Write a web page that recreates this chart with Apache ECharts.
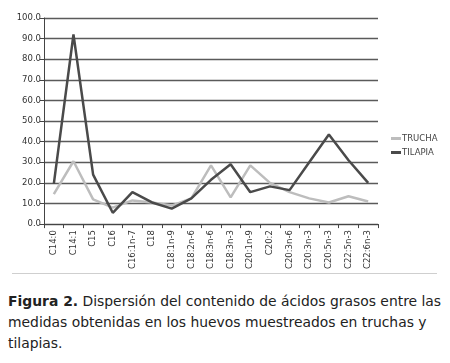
<!DOCTYPE html>
<html>
<head>
<meta charset="utf-8">
<script src="https://cdn.jsdelivr.net/npm/echarts@6/dist/echarts.min.js"></script>
<style>
  body { margin: 0; background: #fff; }
  #wrap { position: relative; width: 450px; height: 363px; }
  #chart { position: absolute; left: 0; top: 0; width: 450px; height: 272px; }
  #sep { position: absolute; left: 12px; top: 273px; width: 425px; border-top: 1px solid #cfcfcf; }
  #caption {
    position: absolute; left: 8px; top: 291px; width: 440px;
    font-family: "DejaVu Sans", sans-serif; font-size: 13.9px; line-height: 21px;
    color: #222; white-space: nowrap;
  }
  #caption b { font-weight: bold; }
</style>
</head>
<body>
<div id="wrap">
  <div id="chart"></div>
  <div id="sep"></div>
  <div id="caption"><b>Figura 2.</b> Dispersión del contenido de ácidos grasos entre las<br>medidas obtenidas en los huevos muestreados en truchas y<br>tilapias.</div>
</div>
<script>
// ácidos grasos (eje x)
const acidos = ['C14:0', 'C14:1', 'C15', 'C16', 'C16:1n-7', 'C18', 'C18:1n-9', 'C18:2n-6',
  'C18:3n-6', 'C18:3n-3', 'C20:1n-9', 'C20:2', 'C20:3n-6', 'C20:3n-3', 'C20:5n-3', 'C22:5n-3', 'C22:6n-3'];
const trucha = [14.5, 30.5, 12, 8, 11.5, 10.5, 9, 12.5, 28.5, 13, 28.5, 20, 15.5, 12.5, 10.5, 13.5, 11];
const tilapia = [19.5, 92, 24, 5.5, 15.5, 10.5, 7.5, 12.5, 21.5, 29, 15.5, 18.3, 16.5, 30, 43.5, 31, 20];

const chart = echarts.init(document.getElementById('chart'));
chart.setOption({
  animation: false,
  grid: { left: 44, right: 72, top: 18, bottom: 47 },
  legend: {
    orient: 'vertical',
    left: 386,
    top: 129,
    itemWidth: 10,
    itemHeight: 3,
    itemGap: 5,
    icon: 'rect',
    textStyle: { fontFamily: 'DejaVu Sans', fontSize: 8.5, color: '#444', padding: [0, 0, 0, -4] },
    data: ['TRUCHA', 'TILAPIA']
  },
  xAxis: {
    type: 'category',
    data: acidos,
    axisLine: { lineStyle: { color: '#444', width: 1 } },
    axisTick: { show: true, length: 4, lineStyle: { color: '#444' } },
    axisLabel: { rotate: 90, interval: 0, fontFamily: 'DejaVu Sans', fontSize: 8.5, color: '#333', margin: 6 }
  },
  yAxis: {
    type: 'value',
    min: 0,
    max: 100,
    interval: 10,
    axisLine: { show: true, lineStyle: { color: '#444', width: 1 } },
    axisTick: { show: true, length: 4, lineStyle: { color: '#444' } },
    axisLabel: { fontFamily: 'DejaVu Sans', fontSize: 8.5, color: '#333', margin: 3,
      formatter: v => v.toFixed(1) },
    splitLine: { lineStyle: { color: '#5a5a5a', width: 1.3 } }
  },
  series: [
    { name: 'TRUCHA', type: 'line', data: trucha, symbol: 'none',
      color: '#bdbdbd', lineStyle: { width: 2.5 } },
    { name: 'TILAPIA', type: 'line', data: tilapia, symbol: 'none',
      color: '#4a4a4a', lineStyle: { width: 2.5 } }
  ]
});
</script>
</body>
</html>
